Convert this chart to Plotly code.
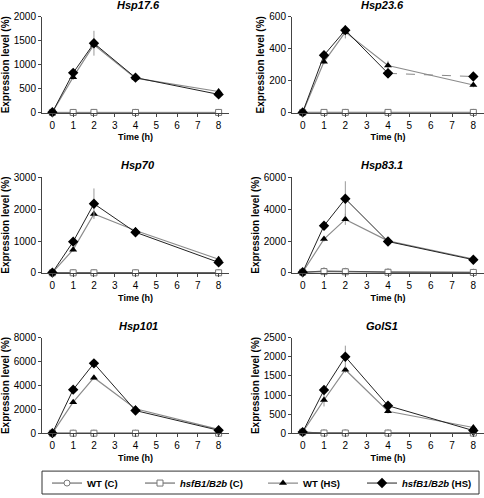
import plotly.graph_objects as go

# ---------------- data ----------------
times = [0, 1, 2, 4, 8]
genes = ["Hsp17.6", "Hsp23.6", "Hsp70", "Hsp83.1", "Hsp101", "GolS1"]

wt_c = {
    "Hsp17.6": [2, 3, 4, 3, 2],
    "Hsp23.6": [1, 1, 1, 1, 1],
    "Hsp70": [3, 4, 4, 3, 3],
    "Hsp83.1": [40, 120, 100, 60, 40],
    "Hsp101": [5, 6, 6, 5, 5],
    "GolS1": [30, 8, 8, 6, 6],
}
mut_c = {
    "Hsp17.6": [2, 2, 3, 2, 2],
    "Hsp23.6": [1, 1, 1, 1, 1],
    "Hsp70": [3, 3, 3, 3, 3],
    "Hsp83.1": [40, 80, 70, 40, 30],
    "Hsp101": [5, 5, 5, 5, 5],
    "GolS1": [30, 6, 6, 5, 5],
}
wt_hs = {
    "Hsp17.6": [5, 740, 1420, 720, 440],
    "Hsp23.6": [1, 318, 505, 295, 173],
    "Hsp70": [10, 730, 1850, 1330, 430],
    "Hsp83.1": [40, 2120, 3360, 2010, 870],
    "Hsp101": [10, 2600, 4650, 2050, 330],
    "GolS1": [30, 870, 1660, 575, 150],
}
mut_hs = {
    "Hsp17.6": [5, 830, 1450, 730, 380],
    "Hsp23.6": [1, 360, 517, 246, 226],
    "Hsp70": [10, 980, 2170, 1275, 330],
    "Hsp83.1": [40, 2960, 4650, 1970, 830],
    "Hsp101": [10, 3650, 5850, 1900, 250],
    "GolS1": [30, 1130, 2000, 720, 70],
}
wt_hs_err = {
    "Hsp17.6": [0, 60, 60, 40, 60],
    "Hsp23.6": [0, 15, 40, 30, 15],
    "Hsp70": [0, 60, 100, 60, 100],
    "Hsp83.1": [0, 150, 350, 80, 60],
    "Hsp101": [0, 150, 200, 100, 60],
    "GolS1": [0, 170, 80, 60, 40],
}
mut_hs_err = {
    "Hsp17.6": [0, 50, 260, 30, 50],
    "Hsp23.6": [0, 15, 30, 15, 10],
    "Hsp70": [0, 50, 480, 60, 60],
    "Hsp83.1": [0, 100, 1100, 80, 50],
    "Hsp101": [0, 250, 300, 150, 40],
    "GolS1": [0, 100, 290, 40, 20],
}
y_max = {"Hsp17.6": 2000, "Hsp23.6": 600, "Hsp70": 3000,
         "Hsp83.1": 6000, "Hsp101": 8000, "GolS1": 2500}
y_dtick = {"Hsp17.6": 500, "Hsp23.6": 200, "Hsp70": 1000,
           "Hsp83.1": 2000, "Hsp101": 2000, "GolS1": 500}
# genes whose mutant HS line is dashed after 4 h
dashed_after_4h = ["Hsp23.6"]

series_names = ["WT (C)", "<i>hsfB1/B2b</i> (C)", "WT (HS)", "<i>hsfB1/B2b</i> (HS)"]

# ---------------- layout helpers ----------------
W, H = 484, 498
col_px = [(42, 229), (292, 484)]
row_px = [(17, 113), (178, 274), (339, 435)]

fig = go.Figure()
FONT = "Liberation Sans, Arial, sans-serif"
AX = "#444444"

for i, g in enumerate(genes):
    r, c = divmod(i, 2)
    n = i + 1
    xa = "x" if n == 1 else f"x{n}"
    ya = "y" if n == 1 else f"y{n}"
    show = (i == 0)

    fig.add_trace(go.Scatter(
        x=times, y=wt_c[g], mode="lines+markers", name=series_names[0],
        legendgroup="a", showlegend=show, legend="legend",
        xaxis=xa, yaxis=ya, cliponaxis=False,
        line=dict(color="#555555", width=1),
        marker=dict(symbol="circle", size=6, color="white",
                    line=dict(color="#777777", width=1))))
    fig.add_trace(go.Scatter(
        x=times, y=mut_c[g], mode="lines+markers", name=series_names[1],
        legendgroup="b", showlegend=show, legend="legend2",
        xaxis=xa, yaxis=ya, cliponaxis=False,
        line=dict(color="#555555", width=1),
        marker=dict(symbol="square", size=6, color="white",
                    line=dict(color="#777777", width=1))))
    fig.add_trace(go.Scatter(
        x=times, y=wt_hs[g], mode="lines+markers", name=series_names[2],
        legendgroup="c", showlegend=show, legend="legend3",
        xaxis=xa, yaxis=ya, cliponaxis=False,
        line=dict(color="#8c8c8c", width=1.2),
        error_y=dict(type="data", array=wt_hs_err[g], color="#999999",
                     thickness=1, width=0),
        marker=dict(symbol="triangle-up", size=7, color="black")))
    if g in dashed_after_4h:
        k = times.index(4)
        fig.add_trace(go.Scatter(
            x=times[:k + 1], y=mut_hs[g][:k + 1], mode="lines+markers",
            name=series_names[3], legendgroup="d", showlegend=show,
            legend="legend4",
            xaxis=xa, yaxis=ya, cliponaxis=False,
            line=dict(color="#222222", width=1),
            error_y=dict(type="data", array=mut_hs_err[g][:k + 1],
                         color="#999999", thickness=1, width=0),
            marker=dict(symbol="diamond", size=8, color="black")))
        fig.add_trace(go.Scatter(
            x=times[k:], y=mut_hs[g][k:], mode="lines+markers",
            name=series_names[3], legendgroup="d", showlegend=False,
            legend="legend4",
            xaxis=xa, yaxis=ya, cliponaxis=False,
            line=dict(color="#888888", width=1, dash="dash"),
            marker=dict(symbol="diamond", size=8, color="black")))
    else:
        fig.add_trace(go.Scatter(
            x=times, y=mut_hs[g], mode="lines+markers", name=series_names[3],
            legendgroup="d", showlegend=show, legend="legend4",
            xaxis=xa, yaxis=ya, cliponaxis=False,
            line=dict(color="#222222", width=1),
            error_y=dict(type="data", array=mut_hs_err[g], color="#999999",
                         thickness=1, width=0),
            marker=dict(symbol="diamond", size=8, color="black")))

    x0, x1 = col_px[c]
    y0, y1 = row_px[r]
    xkey = "xaxis" if n == 1 else f"xaxis{n}"
    ykey = "yaxis" if n == 1 else f"yaxis{n}"
    fig.layout[xkey] = dict(
        domain=[x0 / W, x1 / W], anchor=ya, range=[-0.5, 8.5],
        tickmode="array", tickvals=list(range(0, 9)),
        showline=True, linecolor=AX, linewidth=1, ticks="outside",
        ticklen=3, tickcolor=AX, showgrid=False, zeroline=False,
        tickfont=dict(size=10, color="black", family=FONT),
        title=dict(text="<b>Time (h)</b>", standoff=4,
                   font=dict(size=9, color="black", family=FONT)),
        automargin=False)
    fig.layout[ykey] = dict(
        domain=[1 - y1 / H, 1 - y0 / H], anchor=xa,
        range=[0, y_max[g]], dtick=y_dtick[g], tick0=0,
        showline=True, linecolor=AX, linewidth=1, ticks="outside",
        ticklen=3, tickcolor=AX, showgrid=False, zeroline=False,
        tickfont=dict(size=10, color="black", family=FONT),
        title=dict(text="<b>Expression level (%)</b>", standoff=2,
                   font=dict(size=10, color="black", family=FONT)),
        automargin=False)
    fig.add_annotation(
        text=f"<b><i>{g}</i></b>", xref="paper", yref="paper",
        x=(138 if c == 0 else 382) / W, y=1 - (y0 - 12) / H,
        xanchor="center", yanchor="middle", showarrow=False,
        font=dict(size=11, color="black", family=FONT))

# legend frame
fig.add_shape(type="rect", xref="paper", yref="paper",
              x0=42 / W, x1=479 / W, y0=1 - 496 / H, y1=1 - 473 / H,
              line=dict(color="#333333", width=1), fillcolor="rgba(0,0,0,0)")

LEG_FONT = dict(size=9.5, color="black", family=FONT, weight="bold")
LEG_Y = 1 - 485 / H
legend_text_x = [87, 180, 303, 402]


def leg(px):
    return dict(orientation="h", x=(px - 40) / W, xanchor="left",
                y=LEG_Y, yanchor="middle", bgcolor="rgba(0,0,0,0)",
                borderwidth=0, font=LEG_FONT, itemwidth=30)


fig.update_layout(
    width=W, height=H, margin=dict(l=0, r=0, t=0, b=0),
    paper_bgcolor="white", plot_bgcolor="white",
    font=dict(family=FONT, color="black"),
    showlegend=True,
    legend=leg(legend_text_x[0]),
    legend2=leg(legend_text_x[1]),
    legend3=leg(legend_text_x[2]),
    legend4=leg(legend_text_x[3]),
)

fig.write_html(
    "out.html",
    config={"displayModeBar": False},
    post_script="document.body.style.margin='0';document.body.style.overflow='hidden';",
)
